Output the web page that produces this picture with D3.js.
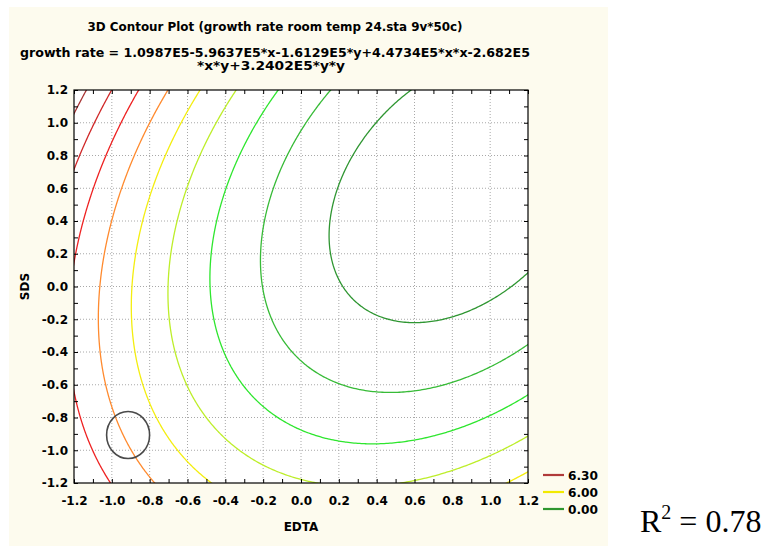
<!DOCTYPE html>
<html>
<head>
<meta charset="utf-8">
<title>3D Contour Plot - growth rate</title>
<script src="https://d3js.org/d3.v7.min.js"></script>
<style>
  body { margin: 0; background: #fff; }
  svg text { font-family: "DejaVu Sans", sans-serif; font-weight: bold; fill: #000; }
  .tick-label { font-size: 12px; }
  .axis-title { font-size: 12px; text-anchor: middle; }
  .grid line { stroke: #a8a8a8; stroke-dasharray: 1,2; }
  .inner-ticks path { display: none; }
  .inner-ticks line { stroke: #000; }
  .contour { fill: none; stroke-width: 1.3; }
  .r2 { font-family: "Liberation Serif", "Times New Roman", serif; font-weight: normal; }
</style>
</head>
<body>
<svg id="chart" width="764" height="548"></svg>
<script>
// fitted surface: growth rate = c0 + c1*x + c2*y + c3*x*x + c4*x*y + c5*y*y
const termNames = ["1", "x", "y", "x*x", "x*y", "y*y"];
const coefs = [1.0987e5, -5.9637e5, -1.6129e5, 4.4734e5, -2.682e5, 3.2402e5];

// contour levels and the colour of each line
const levels = [0, 250000, 500000, 750000, 1000000, 1250000, 1500000, 1750000, 2000000];
const levelColors = ["#2f9632", "#37bb37", "#2ee62e", "#bdee2a", "#f4ee10", "#ff8a2e", "#ee2222", "#d02828", "#a83434"];

// axes
const xTicks = [-1.2, -1.0, -0.8, -0.6, -0.4, -0.2, 0.0, 0.2, 0.4, 0.6, 0.8, 1.0, 1.2];
const yTicks = [-1.2, -1.0, -0.8, -0.6, -0.4, -0.2, 0.0, 0.2, 0.4, 0.6, 0.8, 1.0, 1.2];
const minorTicks = d3.range(-12, 13).map(d => d / 10);

// legend (as printed on the chart)
const legendLabels = ["6.30", "6.00", "0.00"];
const legendColors = ["#b03a3a", "#f2ea00", "#2e962e"];

// circled point (EDTA, SDS)
const markedPoint = [-0.914, -0.907];

const svg = d3.select("#chart");

// panel background
svg.append("rect")
  .attr("x", 9).attr("y", 7)
  .attr("width", 599).attr("height", 539)
  .attr("fill", "#fdfbee");

const margin = { left: 74, top: 90 };
const width = 454, height = 393;

const x = d3.scaleLinear().domain([-1.2, 1.2]).range([margin.left, margin.left + width]);
const y = d3.scaleLinear().domain([-1.2, 1.2]).range([margin.top + height, margin.top]);

// titles
svg.append("text")
  .attr("x", 275).attr("y", 30.5)
  .attr("text-anchor", "middle")
  .attr("font-size", 13)
  .attr("textLength", 375).attr("lengthAdjust", "spacingAndGlyphs")
  .text("3D Contour Plot (growth rate room temp 24.sta 9v*50c)");

svg.append("text")
  .attr("x", 275).attr("y", 56.5)
  .attr("text-anchor", "middle")
  .attr("font-size", 13)
  .attr("textLength", 510).attr("lengthAdjust", "spacingAndGlyphs")
  .text("growth rate = 1.0987E5-5.9637E5*x-1.6129E5*y+4.4734E5*x*x-2.682E5");

svg.append("text")
  .attr("x", 271).attr("y", 70)
  .attr("text-anchor", "middle")
  .attr("font-size", 13)
  .attr("textLength", 148).attr("lengthAdjust", "spacingAndGlyphs")
  .text("*x*y+3.2402E5*y*y");

// plot area
svg.append("rect")
  .attr("x", margin.left).attr("y", margin.top)
  .attr("width", width).attr("height", height)
  .attr("fill", "#fff");

// grid
svg.append("g").attr("class", "grid")
  .selectAll("line.v")
  .data(xTicks.slice(1, -1))
  .join("line")
  .attr("x1", d => x(d)).attr("x2", d => x(d))
  .attr("y1", margin.top).attr("y2", margin.top + height);

svg.append("g").attr("class", "grid")
  .selectAll("line.h")
  .data(yTicks.slice(1, -1))
  .join("line")
  .attr("y1", d => y(d)).attr("y2", d => y(d))
  .attr("x1", margin.left).attr("x2", margin.left + width);

// surface grid (a bit wider than the plot so the outer edges get clipped)
const step = 0.01, g0 = -1.4, n = 281;
const surface = (ex, sd) =>
  coefs[0] + coefs[1] * ex + coefs[2] * sd + coefs[3] * ex * ex + coefs[4] * ex * sd + coefs[5] * sd * sd;
const values = new Array(n * n);
for (let j = 0; j < n; j++) {
  for (let i = 0; i < n; i++) {
    values[i + j * n] = surface(g0 + i * step, g0 + j * step);
  }
}

const contours = d3.contours().size([n, n]).thresholds(levels)(values);

const toPlot = d3.geoTransform({
  point: function(gx, gy) {
    this.stream.point(x(g0 + (gx - 0.5) * step), y(g0 + (gy - 0.5) * step));
  }
});
const path = d3.geoPath(toPlot);

svg.append("clipPath").attr("id", "plot-clip")
  .append("rect")
  .attr("x", margin.left).attr("y", margin.top)
  .attr("width", width).attr("height", height);

svg.append("g")
  .attr("clip-path", "url(#plot-clip)")
  .selectAll("path")
  .data(contours)
  .join("path")
  .attr("class", "contour")
  .attr("d", path)
  .attr("stroke", (d, i) => levelColors[levels.indexOf(d.value)]);

// frame
svg.append("rect")
  .attr("x", margin.left).attr("y", margin.top)
  .attr("width", width).attr("height", height)
  .attr("fill", "none").attr("stroke", "#000").attr("stroke-width", 1.2);

// inner ticks on all four sides
svg.append("g").attr("class", "inner-ticks")
  .attr("transform", `translate(0,${margin.top + height})`)
  .call(d3.axisBottom(x).tickValues(minorTicks).tickSize(-4).tickFormat(""));
svg.append("g").attr("class", "inner-ticks")
  .attr("transform", `translate(0,${margin.top})`)
  .call(d3.axisTop(x).tickValues(minorTicks).tickSize(-4).tickFormat(""));
svg.append("g").attr("class", "inner-ticks")
  .attr("transform", `translate(${margin.left},0)`)
  .call(d3.axisLeft(y).tickValues(minorTicks).tickSize(-4).tickFormat(""));
svg.append("g").attr("class", "inner-ticks")
  .attr("transform", `translate(${margin.left + width},0)`)
  .call(d3.axisRight(y).tickValues(minorTicks).tickSize(-4).tickFormat(""));

// tick labels
const fmt = d => d.toFixed(1);
const xAxis = svg.append("g")
  .attr("transform", `translate(0,${margin.top + height})`)
  .call(d3.axisBottom(x).tickValues(xTicks).tickSize(0).tickPadding(13).tickFormat(fmt));
xAxis.select(".domain").remove();
xAxis.selectAll("text").attr("class", "tick-label").attr("font-size", null).attr("font-family", null);

const yAxis = svg.append("g")
  .attr("transform", `translate(${margin.left},0)`)
  .call(d3.axisLeft(y).tickValues(yTicks).tickSize(0).tickPadding(6).tickFormat(fmt));
yAxis.select(".domain").remove();
yAxis.selectAll("text").attr("class", "tick-label").attr("font-size", null).attr("font-family", null);

// axis titles
svg.append("text").attr("class", "axis-title")
  .attr("x", margin.left + width / 2).attr("y", 531)
  .text("EDTA");

svg.append("text").attr("class", "axis-title")
  .attr("transform", `translate(29,${margin.top + height / 2}) rotate(-90)`)
  .text("SDS");

// circled point
svg.append("ellipse")
  .attr("cx", x(markedPoint[0])).attr("cy", y(markedPoint[1]))
  .attr("rx", 21.5).attr("ry", 23.5)
  .attr("fill", "none").attr("stroke", "#4a4a4a").attr("stroke-width", 1.6);

// legend
const legend = svg.append("g").attr("transform", "translate(543,475)");
legendLabels.forEach((lab, i) => {
  legend.append("line")
    .attr("x1", 0).attr("x2", 21)
    .attr("y1", i * 17).attr("y2", i * 17)
    .attr("stroke", legendColors[i]).attr("stroke-width", 2.2);
  legend.append("text")
    .attr("x", 25).attr("y", i * 17 + 4.5)
    .attr("font-size", 12)
    .attr("textLength", 30).attr("lengthAdjust", "spacingAndGlyphs")
    .text(lab);
});

// R squared
const r2 = svg.append("text").attr("class", "r2")
  .attr("x", 640).attr("y", 532)
  .attr("font-size", 32);
r2.append("tspan").text("R");
r2.append("tspan").attr("font-size", 20).attr("dy", -13).text("2");
r2.append("tspan").attr("dy", 13).text(" = 0.78");
</script>
</body>
</html>
